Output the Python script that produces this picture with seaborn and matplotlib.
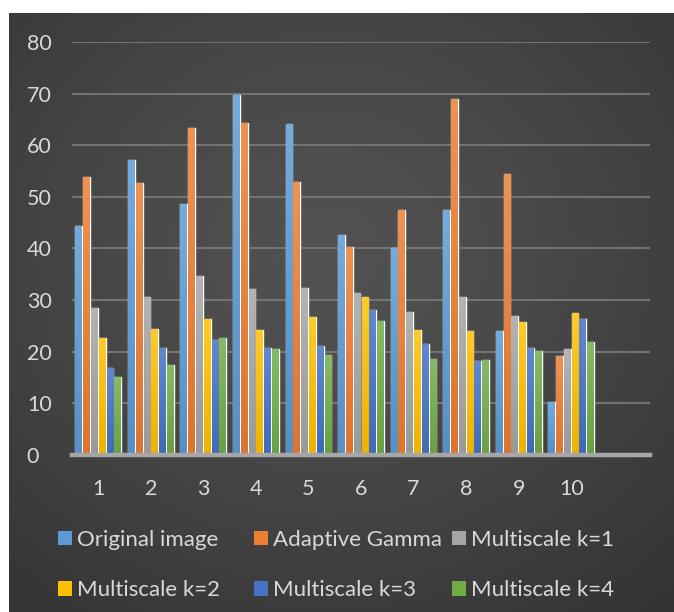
import numpy as np
import pandas as pd
import matplotlib
matplotlib.use("Agg")
import matplotlib.pyplot as plt
import matplotlib.colors as mcolors
from matplotlib.patches import Patch
import seaborn as sns

# Image indices (an eleventh, empty slot leaves room on the right)
images = ["1", "2", "3", "4", "5", "6", "7", "8", "9", "10"]
slots = images + [" "]

original_image = [44.4, 57.1, 48.6, 69.7, 64.1, 42.7, 40.1, 47.5, 24.1, 10.2]
adaptive_gamma = [53.9, 52.7, 63.3, 64.3, 52.8, 40.3, 47.5, 69.0, 54.4, 19.1]
multiscale_k1 = [28.4, 30.6, 34.6, 32.2, 32.4, 31.4, 27.7, 30.6, 26.9, 20.6]
multiscale_k2 = [22.6, 24.4, 26.4, 24.2, 26.7, 30.6, 24.3, 24.1, 25.7, 27.6]
multiscale_k3 = [16.8, 20.8, 22.3, 20.8, 21.1, 28.1, 21.5, 18.3, 20.8, 26.3]
multiscale_k4 = [15.2, 17.4, 22.7, 20.5, 19.4, 26.0, 18.6, 18.4, 20.1, 21.9]

methods = ["Original image", "Adaptive Gamma", "Multiscale k=1",
           "Multiscale k=2", "Multiscale k=3", "Multiscale k=4"]
series = [original_image, adaptive_gamma, multiscale_k1,
          multiscale_k2, multiscale_k3, multiscale_k4]
colors = ["#5B9BD5", "#ED7D31", "#A5A5A5", "#FFC000", "#4472C4", "#70AD47"]

df = pd.DataFrame(
    [(img, m, v) for m, vals in zip(methods, series) for img, v in zip(images, vals)],
    columns=["image", "method", "value"],
)

sns.set_theme(style="dark")
plt.rcParams["font.family"] = ["Lato", "DejaVu Sans"]
text_col = "#d9d9d9"

W, H = 674, 612
fig = plt.figure(figsize=(W / 100, H / 100), dpi=100)
fig.patch.set_facecolor("white")

# Dark panel with a soft radial gradient
bg = fig.add_axes([9 / W, 0, 1 - 9 / W, 599 / H])
gx, gy = np.meshgrid(np.linspace(0, 1, 400), np.linspace(0, 1, 400))
r = np.sqrt(((gx - 0.48) / 0.78) ** 2 + ((gy - 0.40) / 0.78) ** 2)
r = np.clip(r, 0, 1)
lum = 0.32 - 0.12 * r ** 1.3
bg.imshow(np.dstack([lum, lum, lum]), extent=[0, 1, 0, 1], aspect="auto",
          origin="upper", interpolation="bilinear")
bg.set_axis_off()

ax = fig.add_axes([72 / W, (H - 455) / H, 578 / W, 413 / H])
ax.patch.set_alpha(0)

sns.barplot(data=df, x="image", y="value", hue="method", order=slots,
            hue_order=methods, palette=colors, width=0.89, gap=0.13,
            saturation=1, errorbar=None, legend=False, ax=ax, zorder=3)

# Vertical shading on each bar
for bar in list(ax.patches):
    h = bar.get_height()
    if not np.isfinite(h) or h <= 0:
        continue
    x0, y0, w = bar.get_x(), bar.get_y(), bar.get_width()
    base = np.array(mcolors.to_rgb(bar.get_facecolor()))
    top = base + (1 - base) * 0.16
    bottom = base * 0.93
    t = np.linspace(0, 1, 64)[:, None, None]
    img = top * (1 - t) + bottom * t
    im = ax.imshow(img, extent=[x0, x0 + w, y0, y0 + h], aspect="auto",
                   origin="upper", interpolation="bilinear", zorder=3.2)
    im.set_clip_path(bar)

ax.set_xlim(-0.5, len(slots) - 0.5)
ax.set_ylim(0, 80)
ax.set_yticks(range(0, 81, 10))

ax.grid(axis="y", color="#737373", linewidth=1.5, zorder=1)
ax.grid(axis="x", visible=False)
for s in ["top", "right", "left"]:
    ax.spines[s].set_visible(False)
ax.spines["bottom"].set_color("#a6a6a6")
ax.spines["bottom"].set_linewidth(3.2)
ax.spines["bottom"].set_zorder(4)

ax.tick_params(axis="both", length=0, labelsize=15.5, labelcolor=text_col)
ax.tick_params(axis="x", pad=17)
ax.tick_params(axis="y", pad=32.5)
for lab in ax.get_yticklabels():
    lab.set_horizontalalignment("left")
ax.set_xlabel("")
ax.set_ylabel("")

# Legend in three columns of equal width
handles = [Patch(facecolor=c, edgecolor="none") for c in colors]
col_x = [58, 254, 452]
for k in range(3):
    fig.legend([handles[k], handles[k + 3]], [methods[k], methods[k + 3]],
               loc="upper left", bbox_to_anchor=(col_x[k] / W, 1 - 530 / H),
               ncol=1, frameon=False, fontsize=16, labelcolor=text_col,
               handlelength=0.62, handleheight=0.62, handletextpad=0.22,
               labelspacing=1.36, borderpad=0, borderaxespad=0)

fig.savefig("out.png", dpi=100)
